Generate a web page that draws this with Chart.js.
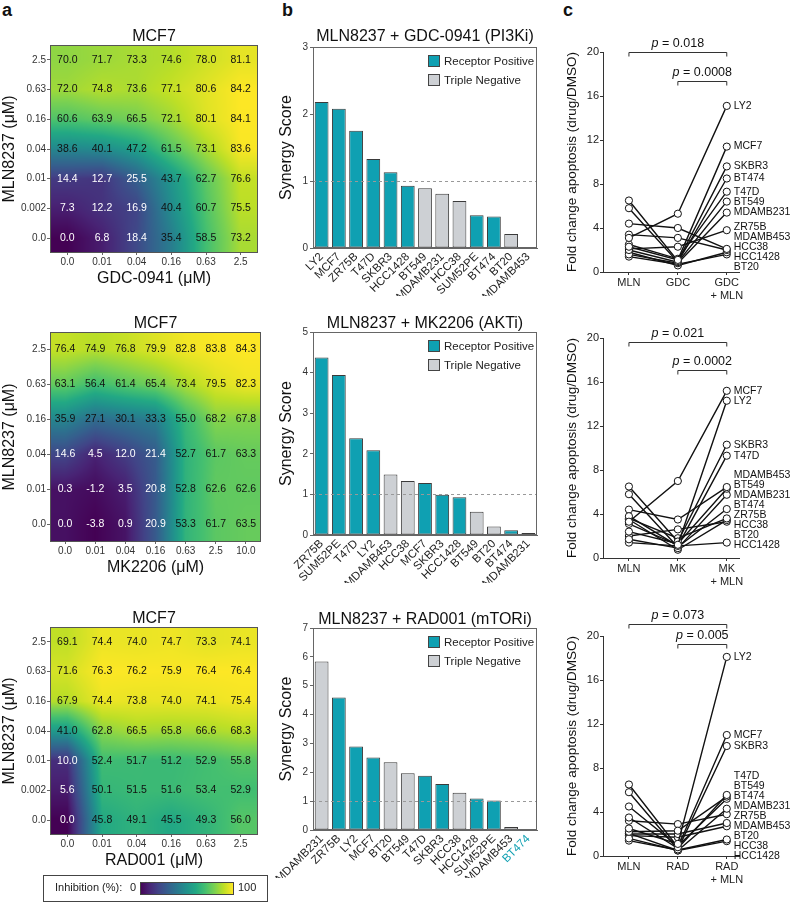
<!DOCTYPE html>
<html>
<head>
  <title>MLN8237 combinations</title>
  <script src="https://cdn.jsdelivr.net/npm/chart.js"></script>
  <style>
    body { margin: 0; background: #fff; overflow: hidden; }
    #page { position: relative; width: 791px; height: 902px; font-family: "Liberation Sans", Arial, sans-serif; }
    #page canvas { position: absolute; }
    .tag { position: absolute; font-weight: bold; font-size: 18px; color: #111; }
  </style>
</head>
<body>
<div id="page">
  <div class="tag" style="left:2px;top:0px">a</div>
  <div class="tag" style="left:282px;top:0px">b</div>
  <div class="tag" style="left:563px;top:0px">c</div>
  <canvas id="heatGdc" style="left:0;top:0" width="270" height="290"></canvas>
  <canvas id="heatMk" style="left:0;top:290px" width="270" height="310"></canvas>
  <canvas id="heatRad" style="left:0;top:600px" width="270" height="302"></canvas>
  <canvas id="barGdc" style="left:270px;top:0" width="300" height="300"></canvas>
  <canvas id="barMk" style="left:270px;top:300px" width="300" height="300"></canvas>
  <canvas id="barRad" style="left:270px;top:600px" width="300" height="302"></canvas>
  <canvas id="pairGdc" style="left:560px;top:0" width="231" height="300"></canvas>
  <canvas id="pairMk" style="left:560px;top:300px" width="231" height="300"></canvas>
  <canvas id="pairRad" style="left:560px;top:600px" width="231" height="302"></canvas>
</div>
<script>
// ---- panel a: MCF7 inhibition (%) grids, rows listed top (2.5) to bottom (0.0)
const mlnRows7 = ['2.5', '0.63', '0.16', '0.04', '0.01', '0.002', '0.0'];
const mlnRows6 = ['2.5', '0.63', '0.16', '0.04', '0.01', '0.0'];
const gdcDoses = ['0.0', '0.01', '0.04', '0.16', '0.63', '2.5'];
const mkDoses = ['0.0', '0.01', '0.04', '0.16', '0.63', '2.5', '10.0'];
const radDoses = ['0.0', '0.01', '0.04', '0.16', '0.63', '2.5'];

const heatGdc = [
  [70.0, 71.7, 73.3, 74.6, 78.0, 81.1],
  [72.0, 74.8, 73.6, 77.1, 80.6, 84.2],
  [60.6, 63.9, 66.5, 72.1, 80.1, 84.1],
  [38.6, 40.1, 47.2, 61.5, 73.1, 83.6],
  [14.4, 12.7, 25.5, 43.7, 62.7, 76.6],
  [7.3, 12.2, 16.9, 40.4, 60.7, 75.5],
  [0.0, 6.8, 18.4, 35.4, 58.5, 73.2]
];
const heatMk = [
  [76.4, 74.9, 76.8, 79.9, 82.8, 83.8, 84.3],
  [63.1, 56.4, 61.4, 65.4, 73.4, 79.5, 82.3],
  [35.9, 27.1, 30.1, 33.3, 55.0, 68.2, 67.8],
  [14.6, 4.5, 12.0, 21.4, 52.7, 61.7, 63.3],
  [0.3, -1.2, 3.5, 20.8, 52.8, 62.6, 62.6],
  [0.0, -3.8, 0.9, 20.9, 53.3, 61.7, 63.5]
];
const heatRad = [
  [69.1, 74.4, 74.0, 74.7, 73.3, 74.1],
  [71.6, 76.3, 76.2, 75.9, 76.4, 76.4],
  [67.9, 74.4, 73.8, 74.0, 74.1, 75.4],
  [41.0, 62.8, 66.5, 65.8, 66.6, 68.3],
  [10.0, 52.4, 51.7, 51.2, 52.9, 55.8],
  [5.6, 50.1, 51.5, 51.6, 53.4, 52.9],
  [0.0, 45.8, 49.1, 45.5, 49.3, 56.0]
];

// ---- panel b: synergy scores
const receptorPositive = ['LY2', 'MCF7', 'ZR75B', 'T47D', 'SKBR3', 'HCC1428', 'SUM52PE', 'BT474'];
const gdcLines = ['LY2', 'MCF7', 'ZR75B', 'T47D', 'SKBR3', 'HCC1428', 'BT549', 'MDAMB231', 'HCC38', 'SUM52PE', 'BT474', 'BT20', 'MDAMB453'];
const gdcScores = [2.18, 2.08, 1.75, 1.33, 1.13, 0.93, 0.89, 0.81, 0.70, 0.49, 0.47, 0.21, 0];
const mkLines = ['ZR75B', 'SUM52PE', 'T47D', 'LY2', 'MDAMB453', 'HCC38', 'MCF7', 'SKBR3', 'HCC1428', 'BT549', 'BT20', 'BT474', 'MDAMB231'];
const mkScores = [4.37, 3.94, 2.38, 2.09, 1.49, 1.33, 1.28, 0.99, 0.93, 0.57, 0.21, 0.12, 0.05];
const radLines = ['MDAMB231', 'ZR75B', 'LY2', 'MCF7', 'BT20', 'BT549', 'T47D', 'SKBR3', 'HCC38', 'HCC1428', 'SUM52PE', 'MDAMB453', 'BT474'];
const radScores = [5.84, 4.59, 2.89, 2.51, 2.35, 1.97, 1.88, 1.59, 1.29, 1.09, 1.02, 0.10, 0];

// ---- panel c: fold change apoptosis (MLN alone, drug alone, drug + MLN)
const pairGdcLines = ['LY2', 'MCF7', 'SKBR3', 'BT474', 'T47D', 'BT549', 'MDAMB231', 'ZR75B', 'MDAMB453', 'HCC38', 'HCC1428', 'BT20'];
const pairGdcMln = [3.1, 2.3, 6.5, 5.8, 2.5, 2.0, 1.6, 2.1, 4.4, 3.4, 1.8, 1.4];
const pairGdcDrug = [5.3, 1.1, 1.0, 0.9, 1.2, 0.9, 0.8, 2.3, 4.0, 3.1, 0.6, 0.7];
const pairGdcCombo = [15.1, 11.4, 9.6, 8.5, 7.3, 6.4, 5.4, 3.8, 2.1, 2.0, 1.8, 1.6];
const pairGdcP = ['0.018', '0.0008'];

const pairMkLines = ['MCF7', 'LY2', 'SKBR3', 'T47D', 'MDAMB453', 'BT549', 'MDAMB231', 'BT474', 'ZR75B', 'HCC38', 'BT20', 'HCC1428'];
const pairMkMln = [3.3, 3.1, 6.5, 3.8, 4.4, 2.4, 1.7, 5.8, 3.6, 3.5, 2.0, 1.4];
const pairMkDrug = [7.0, 1.2, 1.5, 1.1, 3.5, 1.3, 0.9, 1.0, 1.8, 0.75, 2.6, 1.1];
const pairMkCombo = [15.2, 14.3, 10.3, 9.3, 6.45, 6.3, 5.75, 4.45, 3.6, 3.45, 3.3, 1.4];
const pairMkP = ['0.021', '0.0002'];

const pairRadLines = ['LY2', 'MCF7', 'SKBR3', 'T47D', 'BT549', 'BT474', 'MDAMB231', 'ZR75B', 'MDAMB453', 'BT20', 'HCC38', 'HCC1428'];
const pairRadMln = [2.5, 6.5, 5.8, 3.5, 2.2, 4.5, 1.6, 3.2, 2.0, 1.85, 1.4, 2.05];
const pairRadDrug = [1.1, 0.8, 0.6, 0.7, 2.3, 0.9, 0.5, 2.9, 2.0, 1.7, 0.55, 0.5];
const pairRadCombo = [18.1, 11.0, 10.0, 5.55, 5.4, 5.2, 4.3, 3.8, 3.0, 2.7, 1.5, 1.35];
const pairRadP = ['0.073', '0.005'];

const FONT = '"Liberation Sans", Arial, Helvetica, sans-serif';
const TEAL = '#0fa0b2';
const GREY = '#cdd0d4';
Chart.defaults.font.family = FONT;
Chart.defaults.color = '#222';

const VIRIDIS = ['#440154', '#482475', '#414487', '#355f8d', '#2a788e', '#21918c',
  '#22a884', '#44bf70', '#7ad151', '#bddf26', '#fde725'].map(h => [1, 3, 5].map(i => parseInt(h.substr(i, 2), 16)));

function viridis(t) {
  t = Math.max(0, Math.min(1, t)) * (VIRIDIS.length - 1);
  const i = Math.min(Math.floor(t), VIRIDIS.length - 2), f = t - i;
  return VIRIDIS[i].map((c, k) => Math.round(c + (VIRIDIS[i + 1][k] - c) * f));
}

// bilinear sample of grid g[yi][xi] (yi counted from the bottom row)
function sample(g, gx, gy) {
  const rows = g.length, cols = g[0].length;
  gx = Math.max(0, Math.min(cols - 1, gx));
  gy = Math.max(0, Math.min(rows - 1, gy));
  const x0 = Math.min(Math.floor(gx), cols - 2), y0 = Math.min(Math.floor(gy), rows - 2);
  const fx = gx - x0, fy = gy - y0;
  const top = g[y0][x0] * (1 - fx) + g[y0][x0 + 1] * fx;
  const bot = g[y0 + 1][x0] * (1 - fx) + g[y0 + 1][x0 + 1] * fx;
  return top * (1 - fy) + bot * fy;
}

// title centred over the plot area rather than the whole canvas
function titlePlugin(text, lift) {
  return {
    id: 'areaTitle',
    afterDraw(chart) {
      const { ctx, chartArea: a } = chart;
      ctx.save();
      ctx.font = '16px ' + FONT;
      ctx.fillStyle = '#111';
      ctx.textAlign = 'center';
      ctx.textBaseline = 'middle';
      ctx.fillText(text, (a.left + a.right) / 2, a.top - lift);
      ctx.restore();
    }
  };
}

function heatPlugin(values, colorbar) {
  const g = values.slice().reverse();
  const all = [].concat(...values);
  const lo = Math.min(...all), hi = Math.max(...all);
  return {
    id: 'heat',
    beforeDatasetsDraw(chart) {
      const { ctx, chartArea: a, scales: { x, y } } = chart;
      const w = Math.round(a.right - a.left), h = Math.round(a.bottom - a.top);
      const off = document.createElement('canvas');
      off.width = w; off.height = h;
      const octx = off.getContext('2d');
      const img = octx.createImageData(w, h);
      for (let j = 0; j < h; j++) {
        const gy = y.getValueForPixel(a.top + j + 0.5);
        for (let i = 0; i < w; i++) {
          const gx = x.getValueForPixel(a.left + i + 0.5);
          const c = viridis((sample(g, gx, gy) - lo) / (hi - lo));
          const p = (j * w + i) * 4;
          img.data[p] = c[0]; img.data[p + 1] = c[1]; img.data[p + 2] = c[2]; img.data[p + 3] = 255;
        }
      }
      octx.putImageData(img, 0, 0);
      ctx.drawImage(off, a.left, a.top);
    },
    afterDatasetsDraw(chart) {
      const { ctx, chartArea: a, scales: { x, y } } = chart;
      ctx.save();
      ctx.font = '10.5px ' + FONT;
      ctx.textAlign = 'center';
      ctx.textBaseline = 'middle';
      chart.data.datasets[0].data.forEach(p => {
        ctx.fillStyle = (p.v - lo) / (hi - lo) < 0.35 ? '#fff' : '#111';
        ctx.fillText(p.v.toFixed(1), x.getPixelForValue(p.x), y.getPixelForValue(p.y));
      });
      ctx.strokeStyle = '#555';
      ctx.lineWidth = 1;
      ctx.strokeRect(a.left + 0.5, a.top + 0.5, a.right - a.left - 1, a.bottom - a.top - 1);
      ctx.restore();
    },
    afterDraw(chart) {
      if (!colorbar) return;
      const { ctx, chartArea: a } = chart;
      const L = a.left - 7, R = a.right + 9, T = a.bottom + 40, B = chart.height - 1;
      const mid = (T + B) / 2;
      ctx.save();
      ctx.strokeStyle = '#444';
      ctx.lineWidth = 1;
      ctx.strokeRect(L + 0.5, T + 0.5, R - L, B - T);
      ctx.fillStyle = '#222';
      ctx.font = '11px ' + FONT;
      ctx.textBaseline = 'middle';
      ctx.fillText('Inhibition (%):', L + 12, mid);
      ctx.fillText('0', L + 87, mid);
      ctx.fillText('100', L + 195, mid);
      const gx0 = L + 97, gx1 = L + 190;
      const grad = ctx.createLinearGradient(gx0, 0, gx1, 0);
      VIRIDIS.forEach((c, i) => grad.addColorStop(i / (VIRIDIS.length - 1), 'rgb(' + c.join(',') + ')'));
      ctx.fillStyle = grad;
      ctx.fillRect(gx0, mid - 6, gx1 - gx0, 12);
      ctx.strokeRect(gx0 + 0.5, mid - 6 + 0.5, gx1 - gx0, 12);
      ctx.restore();
    }
  };
}

function drawHeat(id, values, xLabels, yLabels, xTitle, pad, colorbar) {
  const rows = values.length, cols = values[0].length;
  const cells = [];
  values.forEach((row, r) => row.forEach((v, c) => cells.push({ x: c, y: rows - 1 - r, v: v })));
  new Chart(document.getElementById(id), {
    type: 'scatter',
    data: { datasets: [{ data: cells, pointRadius: 0, pointHoverRadius: 0 }] },
    options: {
      responsive: false, animation: false, events: [],
      layout: { padding: pad },
      plugins: { legend: { display: false }, tooltip: { enabled: false } },
      scales: {
        x: {
          type: 'linear', min: -0.5, max: cols - 0.5,
          afterBuildTicks: s => { s.ticks = xLabels.map((t, i) => ({ value: i })); },
          afterFit: s => { s.height = 35; },
          ticks: { callback: v => xLabels[v], autoSkip: false, maxRotation: 0, padding: 1, font: { size: 10 }, color: '#333' },
          grid: { drawOnChartArea: false, tickLength: 2, color: '#666' },
          border: { display: false },
          title: { display: true, text: xTitle, color: '#111', font: { size: 16 }, padding: 0 }
        },
        y: {
          type: 'linear', min: -0.5, max: rows - 0.5,
          afterBuildTicks: s => { s.ticks = yLabels.map((t, i) => ({ value: i })); },
          afterFit: s => { s.width = 50; },
          ticks: { callback: v => yLabels[rows - 1 - v], autoSkip: false, padding: 1, font: { size: 10 }, color: '#333' },
          grid: { drawOnChartArea: false, tickLength: 3, color: '#666' },
          border: { display: false },
          title: { display: true, text: 'MLN8237 (μM)', color: '#111', font: { size: 16 }, padding: 0 }
        }
      }
    },
    plugins: [heatPlugin(values, colorbar), titlePlugin('MCF7', 8)]
  });
}

function barPlugin() {
  return {
    id: 'barDecor',
    afterDatasetsDraw(chart) {
      const { ctx, chartArea: a, scales: { y } } = chart;
      ctx.save();
      ctx.strokeStyle = '#999';
      ctx.setLineDash([3, 3]);
      ctx.lineWidth = 1;
      const y1 = Math.round(y.getPixelForValue(1)) + 0.5;
      ctx.beginPath(); ctx.moveTo(a.left, y1); ctx.lineTo(a.right, y1); ctx.stroke();
      ctx.setLineDash([]);
      ctx.strokeStyle = '#666';
      ctx.strokeRect(a.left + 0.5, a.top + 0.5, a.right - a.left - 1, a.bottom - a.top - 1);
      // legend
      ctx.font = '11.5px ' + FONT;
      ctx.textBaseline = 'middle';
      [['Receptor Positive', TEAL], ['Triple Negative', GREY]].forEach((e, i) => {
        const bx = a.right - 109, by = a.top + 14 + i * 19;
        ctx.fillStyle = e[1];
        ctx.fillRect(bx, by - 6, 12, 12);
        ctx.strokeStyle = '#444';
        ctx.strokeRect(bx + 0.5, by - 5.5, 11, 11);
        ctx.fillStyle = '#222';
        ctx.fillText(e[0], bx + 16, by + 0.5);
      });
      ctx.restore();
    }
  };
}

function drawBars(id, lines, scores, yMax, title, lift, pad) {
  const isRP = lines.map(n => receptorPositive.includes(n));
  new Chart(document.getElementById(id), {
    type: 'bar',
    data: {
      labels: lines,
      datasets: [{
        data: scores,
        backgroundColor: isRP.map(r => r ? TEAL : GREY),
        borderColor: '#3a3a3a', borderWidth: 1, borderSkipped: false,
        barPercentage: 1, categoryPercentage: 0.8
      }]
    },
    options: {
      responsive: false, animation: false, events: [],
      layout: { padding: pad },
      plugins: { legend: { display: false }, tooltip: { enabled: false } },
      scales: {
        x: {
          afterFit: s => { s.height = 48; },
          ticks: {
            minRotation: 45, maxRotation: 45, autoSkip: false, padding: 2, font: { size: 11.5 },
            color: c => (scores[c.index] === 0 && isRP[c.index]) ? TEAL : '#222'
          },
          grid: { display: false, drawTicks: false },
          border: { display: true, color: '#666' }
        },
        y: {
          min: 0, max: yMax,
          afterFit: s => { s.width = 43; },
          ticks: { stepSize: 1, padding: 2, font: { size: 10 }, color: '#333' },
          grid: { drawOnChartArea: false, tickLength: 3, color: '#666' },
          border: { display: true, color: '#666' },
          title: { display: true, text: 'Synergy Score', color: '#111', font: { size: 16 }, padding: { top: 7, bottom: 0 } }
        }
      }
    },
    plugins: [barPlugin(), titlePlugin(title, lift)]
  });
}

function pairPlugin(brackets, pvals) {
  return {
    id: 'pairDecor',
    afterDraw(chart) {
      const { ctx, scales: { x, y } } = chart;
      ctx.save();
      // brackets with p-values
      brackets.forEach((b, k) => {
        const x0 = x.getPixelForValue(b.from), x1 = x.getPixelForValue(b.to);
        const yy = Math.round(y.getPixelForValue(b.at)) + 0.5;
        ctx.strokeStyle = '#333';
        ctx.lineWidth = 1;
        ctx.beginPath();
        ctx.moveTo(x0, yy + 4); ctx.lineTo(x0, yy); ctx.lineTo(x1, yy); ctx.lineTo(x1, yy + 4);
        ctx.stroke();
        const rest = ' = ' + pvals[k];
        ctx.font = 'italic 12.5px ' + FONT;
        const wp = ctx.measureText('p').width;
        ctx.font = '12.5px ' + FONT;
        const wr = ctx.measureText(rest).width;
        const tx = (x0 + x1) / 2 - (wp + wr) / 2;
        ctx.fillStyle = '#111';
        ctx.textBaseline = 'middle';
        ctx.font = 'italic 12.5px ' + FONT;
        ctx.fillText('p', tx, yy - 9);
        ctx.font = '12.5px ' + FONT;
        ctx.fillText(rest, tx + wp, yy - 9);
      });
      // cell line names beside the last column, spread apart where crowded
      const items = chart.data.datasets.map(d => ({ name: d.label, pos: y.getPixelForValue(d.data[2].y) }));
      items.sort((p, q) => p.pos - q.pos);
      const gap = 10;
      for (let it = 0; it < 200; it++) {
        for (let i = 0; i < items.length - 1; i++) {
          const d = items[i + 1].pos - items[i].pos;
          if (d < gap) {
            const m = (gap - d) / 2;
            items[i].pos -= m; items[i + 1].pos += m;
          }
        }
      }
      const lx = x.getPixelForValue(2) + 7;
      ctx.font = '10.5px ' + FONT;
      ctx.fillStyle = '#111';
      ctx.textBaseline = 'middle';
      items.forEach(p => ctx.fillText(p.name, lx, p.pos));
      ctx.restore();
    }
  };
}

function drawPairs(id, lines, mln, drug, combo, xLabels, pvals, brackets, pad) {
  const datasets = lines.map((name, k) => ({
    label: name,
    data: [mln[k], drug[k], combo[k]].map((v, i) => ({ x: i, y: v })),
    showLine: true,
    borderColor: '#111', borderWidth: 1.4,
    pointRadius: 3.6, pointBorderWidth: 1, pointBorderColor: '#111', pointBackgroundColor: '#fff',
    clip: false
  }));
  new Chart(document.getElementById(id), {
    type: 'scatter',
    data: { datasets: datasets },
    options: {
      responsive: false, animation: false, events: [],
      layout: { padding: pad },
      plugins: { legend: { display: false }, tooltip: { enabled: false } },
      scales: {
        x: {
          type: 'linear', min: -0.53, max: 2.25,
          afterBuildTicks: s => { s.ticks = xLabels.map((t, i) => ({ value: i })); },
          afterFit: s => { s.height = 28; },
          ticks: { callback: v => xLabels[v], autoSkip: false, maxRotation: 0, padding: 1, font: { size: 11 }, color: '#222' },
          grid: { drawOnChartArea: false, tickLength: 3, color: '#333' },
          border: { display: true, color: '#333' }
        },
        y: {
          min: 0, max: 20,
          afterFit: s => { s.width = 43; },
          ticks: { stepSize: 4, padding: 1, font: { size: 11 }, color: '#222' },
          grid: { drawOnChartArea: false, tickLength: 3, color: '#333' },
          border: { display: true, color: '#333' },
          title: { display: true, text: 'Fold change apoptosis (drug/DMSO)', color: '#111', font: { size: 13.5 }, padding: { top: 4, bottom: 0 } }
        }
      }
    },
    plugins: [pairPlugin(brackets, pvals)]
  });
}

drawHeat('heatGdc', heatGdc, gdcDoses, mlnRows7, 'GDC-0941 (μM)', { top: 45, right: 12, bottom: 2, left: 0 }, false);
drawHeat('heatMk', heatMk, mkDoses, mlnRows6, 'MK2206 (μM)', { top: 42, right: 9, bottom: 23, left: 0 }, false);
drawHeat('heatRad', heatRad, radDoses, mlnRows7, 'RAD001 (μM)', { top: 27, right: 12, bottom: 32, left: 0 }, true);

drawBars('barGdc', gdcLines, gdcScores, 3, 'MLN8237 + GDC-0941 (PI3Ki)', 10, { top: 47, right: 33, bottom: 4, left: 0 });
drawBars('barMk', mkLines, mkScores, 5, 'MLN8237 + MK2206 (AKTi)', 8, { top: 32, right: 33, bottom: 17, left: 0 });
drawBars('barRad', radLines, radScores, 7, 'MLN8237 + RAD001 (mTORi)', 8, { top: 28, right: 33, bottom: 24, left: 0 });

drawPairs('pairGdc', pairGdcLines, pairGdcMln, pairGdcDrug, pairGdcCombo, ['MLN', 'GDC', ['GDC', '+ MLN']], pairGdcP,
  [{ from: 0, to: 2, at: 20 }, { from: 1, to: 2, at: 17.4 }], { top: 52, right: 52, bottom: 0, left: 0 });
drawPairs('pairMk', pairMkLines, pairMkMln, pairMkDrug, pairMkCombo, ['MLN', 'MK', ['MK', '+ MLN']], pairMkP,
  [{ from: 0, to: 2, at: 19.6 }, { from: 1, to: 2, at: 17.05 }], { top: 38, right: 52, bottom: 14, left: 0 });
drawPairs('pairRad', pairRadLines, pairRadMln, pairRadDrug, pairRadCombo, ['MLN', 'RAD', ['RAD', '+ MLN']], pairRadP,
  [{ from: 0, to: 2, at: 21.1 }, { from: 1, to: 2, at: 19.3 }], { top: 36, right: 52, bottom: 18, left: 0 });
</script>
</body>
</html>
